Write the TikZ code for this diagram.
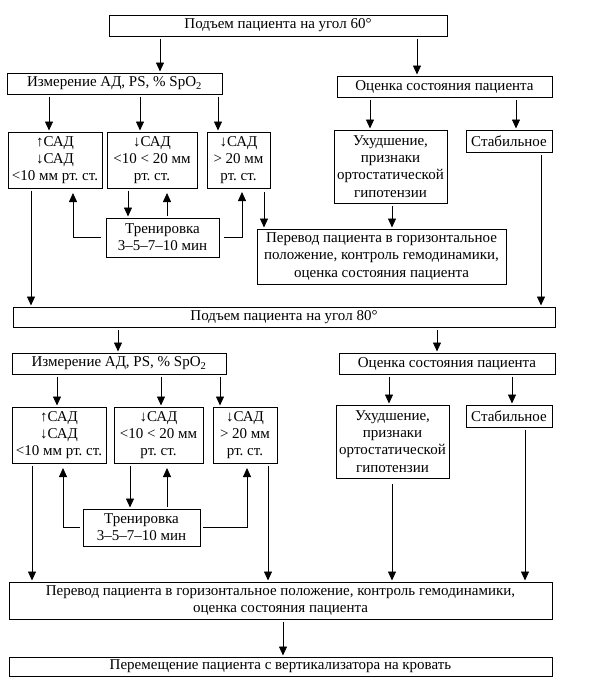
\documentclass[tikz,border=0pt]{standalone}
\usepackage{fontspec}
\setmainfont{Liberation Serif}
\usetikzlibrary{arrows.meta}
\frenchspacing
\tikzset{
  box/.style={draw, line width=0.8pt, inner sep=0pt, outer sep=0pt, align=center,
    font={\fontsize{15}{17.3}\selectfont\frenchspacing}},
  arr/.style={-{Triangle[length=9pt,width=8pt]}, line width=0.8pt, shorten <=2.5pt, shorten >=1.5pt},
}
\newcommand\placebox[6]{%
  \node[box, minimum width={(#4-#2)*1pt}, minimum height={(#5-#3)*1pt}]
    (#1) at ({(#2+#4)/2},{(#3+#5)/2}) {#6};}
\begin{document}
\begin{tikzpicture}[x=1pt,y=-1pt]
\useasboundingbox (0,0) rectangle (591,696);
% upper part
\placebox{A}{109}{15}{447}{36}{Подъем пациента на угол 60°}
\placebox{B}{7}{73}{222}{94}{Измерение АД, PS, \% SpO\textsubscript{2}}
\placebox{C}{337}{76}{552}{97}{Оценка состояния пациента}
\placebox{D1}{8}{132}{102}{188}{↑САД\\↓САД\\<10 мм рт. ст.}
\placebox{D2}{107}{132}{197}{188}{↓САД\\<10 < 20 мм\\рт. ст.}
\placebox{D3}{207}{132}{270}{188}{↓САД\\> 20 мм\\рт. ст.}
\placebox{E}{334}{130}{447}{203}{Ухудшение,\\признаки\\ортостатической\\гипотензии}
\placebox{F}{466}{130}{552}{152}{Стабильное}
\placebox{T1}{106}{218}{219}{257}{Тренировка\\3–5–7–10 мин}
\placebox{P1}{257}{229}{506}{284}{Перевод пациента в горизонтальное\\положение, контроль гемодинамики,\\оценка состояния пациента}
\placebox{G}{13}{307}{555}{327}{Подъем пациента на угол 80°}
% lower part
\placebox{B2}{12}{353}{226}{374}{Измерение АД, PS, \% SpO\textsubscript{2}}
\placebox{C2}{339}{353}{555}{374}{Оценка состояния пациента}
\placebox{H1}{12}{407}{106}{463}{↑САД\\↓САД\\<10 мм рт. ст.}
\placebox{H2}{114}{407}{203}{463}{↓САД\\<10 < 20 мм\\рт. ст.}
\placebox{H3}{213}{407}{277}{463}{↓САД\\> 20 мм\\рт. ст.}
\placebox{E2}{336}{405}{449}{478}{Ухудшение,\\признаки\\ортостатической\\гипотензии}
\placebox{F2}{466}{405}{552}{427}{Стабильное}
\placebox{T2}{83}{509}{200}{546}{Тренировка\\3–5–7–10 мин}
\placebox{P2}{9}{582}{552}{619}{Перевод пациента в горизонтальное положение, контроль гемодинамики,\\оценка состояния пациента}
\placebox{L}{9}{657}{552}{676}{Перемещение пациента с вертикализатора на кровать}
% upper arrows
\draw[arr] (A.south -| 160,0) -- (B.north -| 160,0);
\draw[arr] (A.south -| 417,0) -- (C.north -| 417,0);
\draw[arr] (B.south -| 49,0) -- (D1.north -| 49,0);
\draw[arr] (B.south -| 140,0) -- (D2.north -| 140,0);
\draw[arr] (B.south -| 218,0) -- (D3.north -| 218,0);
\draw[arr] (C.south -| 370,0) -- (E.north -| 370,0);
\draw[arr] (C.south -| 516,0) -- (F.north -| 516,0);
\draw[arr] (D2.south -| 128,0) -- (T1.north -| 128,0);
\draw[arr, shorten >=5pt] (T1.north -| 167,0) -- (D2.south -| 167,0);
\draw[arr, shorten <=5pt, shorten >=5pt] (T1.west) -| (D1.south -| 73,0);
\draw[arr, shorten <=5pt, shorten >=4pt] (T1.east) -| (D3.south -| 242,0);
\draw[arr, shorten <=4pt] (D3.south -| 264,0) -- (P1.north -| 264,0);
\draw[arr] (E.south -| 392,0) -- (P1.north -| 392,0);
\draw[arr] (D1.south -| 31,0) -- (G.north -| 31,0);
\draw[arr] (F.south -| 541,0) -- (G.north -| 541,0);
% lower arrows
\draw[arr] (G.south -| 118,0) -- (B2.north -| 118,0);
\draw[arr] (G.south -| 437,0) -- (C2.north -| 437,0);
\draw[arr] (B2.south -| 57,0) -- (H1.north -| 57,0);
\draw[arr] (B2.south -| 161,0) -- (H2.north -| 161,0);
\draw[arr] (B2.south -| 220,0) -- (H3.north -| 220,0);
\draw[arr] (C2.south -| 389,0) -- (E2.north -| 389,0);
\draw[arr] (C2.south -| 512,0) -- (F2.north -| 512,0);
\draw[arr] (H2.south -| 130,0) -- (T2.north -| 130,0);
\draw[arr, shorten >=5pt] (T2.north -| 167,0) -- (H2.south -| 167,0);
\draw[arr, shorten <=3pt, shorten >=5pt] (T2.west) -| (H1.south -| 63,0);
\draw[arr, shorten <=3pt, shorten >=5pt] (T2.east) -| (H3.south -| 247,0);
\draw[arr] (H1.south -| 32,0) -- (P2.north -| 32,0);
\draw[arr] (H3.south -| 268,0) -- (P2.north -| 268,0);
\draw[arr, shorten <=6pt] (E2.south -| 392,0) -- (P2.north -| 392,0);
\draw[arr] (F2.south -| 525,0) -- (P2.north -| 525,0);
\draw[arr] (P2.south -| 283,0) -- (L.north -| 283,0);
\end{tikzpicture}
\end{document}
